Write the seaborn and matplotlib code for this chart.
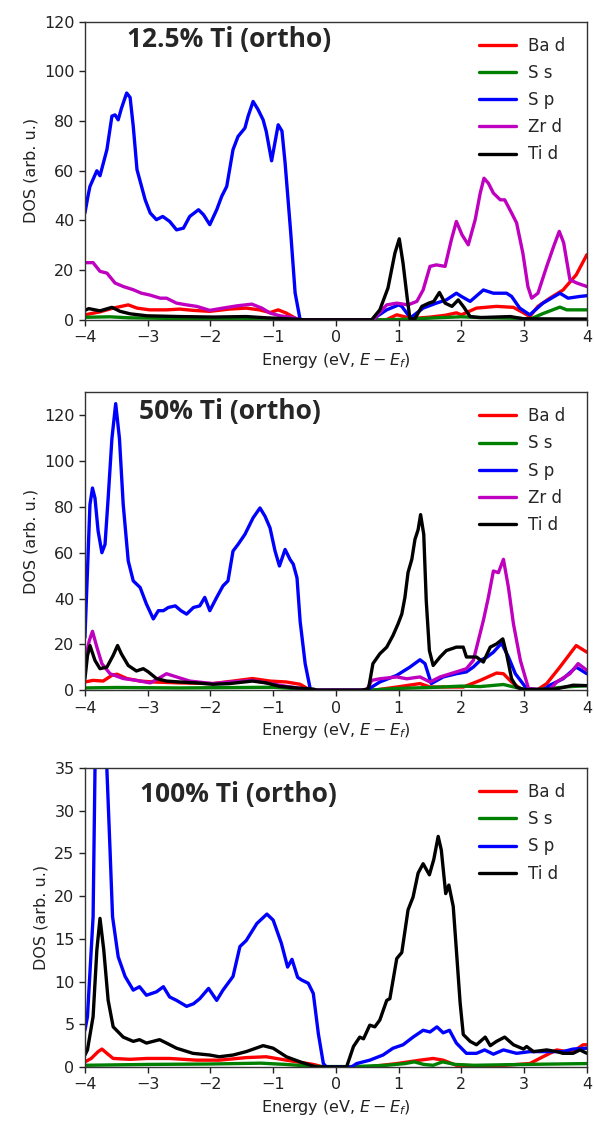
import matplotlib
matplotlib.use("Agg")
import matplotlib.pyplot as plt
import seaborn as sns

# Projected DOS, (energy eV, DOS) pairs for each orbital channel
# ---- 12.5% Ti ----
SP_12 = [(-4.0, 43), (-3.95, 50), (-3.92, 53.7), (-3.81, 60), (-3.76, 58), (-3.65, 68.5), (-3.57, 82),
         (-3.52, 82.5), (-3.47, 80.5), (-3.42, 85), (-3.335, 91.3), (-3.28, 89.5), (-3.23, 77.9),
         (-3.17, 60.4), (-3.13, 56.7), (-3.04, 48.3), (-2.96, 43), (-2.86, 40.3), (-2.76, 41.6),
         (-2.65, 39.6), (-2.54, 36.2), (-2.43, 36.9), (-2.33, 41.6), (-2.19, 44.3), (-2.11, 42.3),
         (-2.01, 38.3), (-1.90, 44.3), (-1.82, 49.7), (-1.74, 53.7), (-1.64, 68.5), (-1.56, 73.8),
         (-1.45, 77.2), (-1.40, 81.9), (-1.32, 87.9), (-1.24, 84.6), (-1.16, 80.5), (-1.11, 75.8),
         (-1.025, 64), (-0.92, 78.5), (-0.86, 76), (-0.81, 63.2), (-0.72, 35), (-0.65, 10.8),
         (-0.57, 0), (0.60, 0), (0.65, 1.3), (0.81, 4), (1.0, 6), (1.05, 5.4), (1.15, 2), (1.2, 1.0),
         (1.39, 4.7), (1.60, 6.7), (1.76, 8), (1.92, 10.7), (2.0, 9.4), (2.14, 7.4), (2.35, 12),
         (2.51, 10.7), (2.72, 10.7), (2.80, 9.4), (2.93, 4.7), (3.09, 2), (3.30, 6.7), (3.57, 10.7),
         (3.70, 8.7), (3.89, 9.4), (4.0, 9.7)]
ZR_12 = [(-4.0, 23), (-3.87, 23), (-3.76, 19.5), (-3.65, 18.8), (-3.52, 14.8), (-3.39, 13.4),
         (-3.23, 12.1), (-3.10, 10.7), (-2.97, 10), (-2.80, 8.7), (-2.70, 8.7), (-2.54, 6.7),
         (-2.38, 6), (-2.22, 5.4), (-2.01, 3.8), (-1.80, 4.7), (-1.58, 5.6), (-1.34, 6.3),
         (-1.18, 4.7), (-1.05, 2.7), (-0.89, 1.6), (-0.68, 0.9), (-0.57, 0), (0.6, 0), (0.7, 3),
         (0.81, 6), (0.97, 6.7), (1.15, 6), (1.29, 7.4), (1.39, 12), (1.50, 21.5), (1.60, 22.1),
         (1.74, 21.5), (1.84, 32.2), (1.92, 39.6), (2.01, 34.2), (2.11, 30.2), (2.22, 40.3),
         (2.30, 51), (2.36, 57), (2.43, 55), (2.51, 51), (2.62, 48.3), (2.69, 48.3), (2.80, 43),
         (2.88, 39), (2.98, 26.8), (3.06, 13.4), (3.12, 8.7), (3.22, 10.7), (3.36, 21.5),
         (3.47, 29.5), (3.56, 35.6), (3.63, 31), (3.73, 16.1), (3.84, 14.8), (4.0, 13.4)]
TI_12 = [(-4.0, 3.8), (-3.94, 4.5), (-3.76, 3.6), (-3.57, 5), (-3.44, 3.4), (-3.28, 2.4),
         (-3.01, 1.6), (-2.49, 1.3), (-1.96, 1.1), (-1.43, 1.3), (-1.11, 0.8), (-0.68, 0.3),
         (-0.5, 0), (0.57, 0), (0.70, 4), (0.83, 12.8), (0.94, 26.8), (1.01, 32.6), (1.07, 22.8),
         (1.14, 8), (1.18, 0.4), (1.26, 0.4), (1.37, 5.4), (1.48, 6.7), (1.56, 7.4), (1.65, 11),
         (1.74, 6.7), (1.85, 5.4), (1.95, 8), (2.03, 5.4), (2.14, 1.3), (2.30, 0.9), (2.78, 1.3),
         (2.99, 0.4), (4.0, 0.3)]
BA_12 = [(-4.0, 2), (-3.76, 3.2), (-3.55, 4.7), (-3.31, 6), (-3.17, 4.7), (-2.97, 4), (-2.70, 4),
         (-2.49, 4.3), (-2.28, 3.8), (-2.01, 3.4), (-1.70, 4.3), (-1.43, 4.7), (-1.22, 4),
         (-1.05, 2.9), (-0.92, 4), (-0.79, 2.7), (-0.63, 0.4), (-0.55, 0), (0.8, 0), (0.97, 2),
         (1.21, 0.5), (1.47, 1), (1.74, 1.8), (1.92, 2.8), (2.0, 2.0), (2.24, 4.7), (2.56, 5.4),
         (2.83, 5), (2.99, 2.8), (3.09, 1.3), (3.22, 5.4), (3.41, 8.7), (3.62, 12), (3.83, 18.1),
         (4.0, 26.2)]
SS_12 = [(-4.0, 1.0), (-3.6, 1.2), (-3.3, 0.8), (-2.5, 0.5), (-1.5, 0.6), (-1.0, 0.4), (-0.6, 0),
         (0.8, 0), (1.2, 0.3), (1.6, 0.8), (2.0, 1.2), (2.4, 0.8), (2.9, 0.6), (3.1, 0.3),
         (3.3, 2.5), (3.57, 5.1), (3.68, 4), (4.0, 4)]

# ---- 50% Ti ----
SP_50 = [(-4.0, 23), (-3.96, 52), (-3.92, 81), (-3.88, 88.2), (-3.84, 83.8), (-3.79, 69.4),
         (-3.73, 60), (-3.68, 63.6), (-3.63, 83.8), (-3.57, 109.8), (-3.51, 125), (-3.45, 109.8),
         (-3.39, 81), (-3.31, 56.4), (-3.23, 47.7), (-3.12, 44.8), (-3.02, 37.6), (-2.91, 31.1),
         (-2.83, 34.7), (-2.75, 34.7), (-2.67, 36.1), (-2.56, 36.8), (-2.47, 34.7), (-2.38, 33.2),
         (-2.27, 36.1), (-2.17, 36.8), (-2.09, 40.5), (-2.01, 34.7), (-1.90, 40.5), (-1.80, 45.5),
         (-1.72, 47.7), (-1.64, 60.7), (-1.56, 63.6), (-1.45, 68), (-1.32, 75.2), (-1.21, 79.5),
         (-1.13, 75.9), (-1.05, 70.8), (-0.97, 60.7), (-0.90, 54.2), (-0.81, 61.4), (-0.73, 57),
         (-0.68, 55), (-0.62, 49), (-0.57, 30), (-0.49, 11.6), (-0.41, 0.7), (-0.38, 0),
         (0.49, 0), (0.70, 3.6), (0.97, 6.5), (1.18, 10.1), (1.34, 13.3), (1.42, 11.6),
         (1.52, 2.9), (1.71, 5.8), (1.92, 7.2), (2.08, 8), (2.19, 10.1), (2.30, 13), (2.41, 14.5),
         (2.51, 16.6), (2.64, 20.5), (2.75, 14.5), (2.86, 7.2), (3.04, 0.7), (3.3, 0), (3.41, 2.2),
         (3.62, 5), (3.83, 10.1), (4.0, 7.2)]
ZR_50 = [(-4.0, 13), (-3.93, 21.7), (-3.88, 25.7), (-3.81, 18.8), (-3.73, 11.6), (-3.60, 7.2),
         (-3.39, 5.1), (-3.18, 4.3), (-2.96, 3.2), (-2.83, 5.1), (-2.70, 7.2), (-2.54, 5.8),
         (-2.33, 4), (-1.96, 2.9), (-1.70, 3.6), (-1.33, 4.3), (-1.11, 3.2), (-0.79, 1.7),
         (-0.47, 0.5), (-0.4, 0), (0.49, 0), (0.57, 4.3), (0.70, 5), (0.97, 5.8), (1.13, 5),
         (1.34, 5.8), (1.50, 3.6), (1.66, 5.8), (1.92, 8), (2.08, 9.4), (2.19, 13), (2.27, 21.7),
         (2.35, 30.4), (2.43, 40.5), (2.51, 52), (2.59, 51.3), (2.67, 57.1), (2.75, 44.8),
         (2.83, 28.9), (2.94, 13), (3.07, 0.7), (3.4, 0), (3.52, 3.6), (3.73, 7.2), (3.86, 11.6),
         (4.0, 8.7)]
TI_50 = [(-4.0, 5), (-3.96, 15), (-3.92, 19.5), (-3.84, 13), (-3.76, 9.4), (-3.65, 10.1),
         (-3.55, 15.2), (-3.48, 19.5), (-3.42, 15.9), (-3.31, 10.8), (-3.18, 8.4), (-3.07, 9.4),
         (-2.99, 8), (-2.86, 5.1), (-2.70, 4), (-2.49, 3.6), (-2.22, 3.2), (-1.96, 2.6),
         (-1.70, 2.9), (-1.33, 4), (-1.11, 3.2), (-0.90, 1.7), (-0.63, 1), (-0.36, 0.5), (-0.3, 0),
         (0.41, 0), (0.52, 0.7), (0.59, 11.6), (0.70, 15.9), (0.81, 18.8), (0.91, 23.9),
         (0.99, 28.9), (1.05, 33.2), (1.10, 40.5), (1.15, 51.4), (1.21, 57.1), (1.26, 65.8),
         (1.31, 70), (1.35, 76.6), (1.40, 68), (1.44, 39), (1.49, 17.3), (1.55, 10.8),
         (1.66, 14.5), (1.76, 17.3), (1.92, 18.8), (2.03, 18.8), (2.08, 14.5), (2.24, 14.5),
         (2.35, 12.3), (2.46, 18.8), (2.56, 20.2), (2.66, 22.4), (2.72, 15.9), (2.80, 5),
         (2.88, 1.4), (2.99, 0.3), (3.5, 0.5), (3.78, 2.2), (4.0, 2)]
BA_50 = [(-4.0, 3.6), (-3.87, 4.3), (-3.71, 4), (-3.57, 6.5), (-3.49, 7), (-3.33, 5.1), (-3.12, 4),
         (-2.91, 3.6), (-2.49, 3.2), (-1.96, 2.9), (-1.64, 4), (-1.33, 5.1), (-1.05, 4),
         (-0.79, 3.6), (-0.57, 2.6), (-0.47, 1.0), (-0.4, 0), (0.6, 0), (0.97, 1.4), (1.34, 2.9),
         (1.50, 1.4), (2.03, 1.4), (2.30, 4.3), (2.56, 7.5), (2.67, 7.2), (2.80, 3.6), (2.94, 0.7),
         (3.2, 0), (3.36, 2.9), (3.57, 10.1), (3.83, 19.5), (4.0, 16.6)]
SS_50 = [(-4.0, 1.0), (-3.5, 1.2), (-2.5, 1.0), (-1.5, 1.2), (-1.0, 1.3), (-0.5, 0.5), (-0.4, 0),
         (0.5, 0), (1.0, 0.8), (1.5, 1.2), (2.0, 1.8), (2.3, 1.6), (2.67, 2.5), (2.9, 1.0),
         (3.1, 0), (3.3, 0.5), (3.7, 1.5), (4.0, 2.0)]

# ---- 100% Ti ----
SP_100 = [(-4.0, 4.3), (-3.96, 5.9), (-3.87, 17.6), (-3.84, 34.8), (-3.80, 45), (-3.74, 46),
          (-3.68, 40), (-3.65, 34.8), (-3.60, 25.4), (-3.56, 17.6), (-3.47, 12.9), (-3.36, 10.6),
          (-3.23, 9.0), (-3.13, 9.4), (-3.02, 8.4), (-2.86, 8.8), (-2.75, 9.4), (-2.65, 8.2),
          (-2.54, 7.8), (-2.38, 7.1), (-2.27, 7.4), (-2.17, 8.0), (-2.03, 9.2), (-1.90, 7.8),
          (-1.80, 9.0), (-1.64, 10.6), (-1.53, 14.1), (-1.43, 14.8), (-1.26, 16.8), (-1.10, 17.9),
          (-1.0, 17.2), (-0.87, 14.5), (-0.77, 11.7), (-0.70, 12.6), (-0.61, 10.5), (-0.55, 10.2),
          (-0.44, 9.8), (-0.36, 8.6), (-0.28, 3.9), (-0.20, 0.4), (-0.15, 0), (0.25, 0),
          (0.33, 0.4), (0.54, 0.8), (0.75, 1.4), (0.91, 2.2), (1.07, 2.6), (1.23, 3.5),
          (1.39, 4.3), (1.50, 4.1), (1.61, 4.7), (1.71, 4.0), (1.81, 4.3), (1.92, 2.8),
          (2.08, 1.6), (2.24, 1.6), (2.37, 2.0), (2.51, 1.5), (2.67, 2.0), (2.88, 1.6),
          (3.09, 1.8), (3.36, 1.8), (3.62, 1.8), (3.78, 2.1), (4.0, 2.2)]
TI_100 = [(-4.0, 1.4), (-3.96, 2.0), (-3.87, 5.9), (-3.81, 13.7), (-3.76, 17.4), (-3.70, 13.7),
          (-3.63, 7.8), (-3.55, 4.7), (-3.39, 3.5), (-3.23, 3.0), (-3.13, 3.2), (-3.02, 2.8),
          (-2.81, 3.2), (-2.70, 2.8), (-2.54, 2.2), (-2.28, 1.6), (-2.01, 1.4), (-1.86, 1.2),
          (-1.64, 1.4), (-1.43, 1.8), (-1.16, 2.5), (-1.0, 2.2), (-0.79, 1.2), (-0.57, 0.6),
          (-0.36, 0.1), (-0.3, 0), (0.17, 0), (0.28, 2.4), (0.38, 3.5), (0.44, 3.3), (0.54, 4.9),
          (0.62, 4.7), (0.70, 5.5), (0.81, 7.8), (0.86, 8.0), (0.97, 12.7), (1.05, 13.4),
          (1.15, 18.4), (1.23, 19.9), (1.31, 22.7), (1.39, 23.8), (1.49, 22.5), (1.56, 24.3),
          (1.63, 27.0), (1.68, 25.4), (1.75, 20.3), (1.80, 21.3), (1.87, 18.8), (1.92, 13.7),
          (1.98, 7.5), (2.03, 3.8), (2.14, 3.0), (2.24, 2.6), (2.38, 3.5), (2.46, 2.5),
          (2.56, 3.0), (2.69, 3.5), (2.83, 2.6), (2.99, 2.1), (3.04, 2.4), (3.15, 1.8),
          (3.36, 2.0), (3.52, 1.8), (3.62, 1.6), (3.78, 1.6), (3.89, 2.0), (4.0, 1.6)]
BA_100 = [(-4.0, 0.6), (-3.90, 1.0), (-3.79, 1.8), (-3.73, 2.1), (-3.65, 1.6), (-3.55, 1.0),
          (-3.28, 0.9), (-3.01, 1.0), (-2.65, 1.0), (-2.22, 0.8), (-1.86, 0.8), (-1.43, 1.1),
          (-1.11, 1.2), (-0.79, 0.8), (-0.36, 0.3), (-0.2, 0), (0.5, 0), (0.97, 0.4), (1.34, 0.8),
          (1.55, 1.0), (1.71, 0.8), (1.92, 0.2), (2.5, 0.1), (3.09, 0.4), (3.30, 1.2), (3.52, 2.0),
          (3.68, 1.8), (3.84, 2.1), (3.94, 2.6), (4.0, 2.6)]
SS_100 = [(-4.0, 0.2), (-3.0, 0.3), (-2.0, 0.35), (-1.2, 0.45), (-0.8, 0.3), (-0.3, 0.05),
          (0.3, 0.05), (0.8, 0.2), (1.1, 0.4), (1.25, 0.6), (1.4, 0.3), (1.55, 0.2), (1.7, 0.6),
          (1.9, 0.3), (2.2, 0.2), (3.0, 0.3), (4.0, 0.4)]

TITLES = ["12.5% Ti (ortho)", "50% Ti (ortho)", "100% Ti (ortho)"]
LABELS = ["Ba d", "S s", "S p", "Zr d", "Ti d"]
COLORS = {"Ba d": "#ff0000", "S s": "#008000", "S p": "#0000ff", "Zr d": "#bf00bf", "Ti d": "#000000"}
PANELS = [
    {"Ba d": BA_12, "S s": SS_12, "S p": SP_12, "Zr d": ZR_12, "Ti d": TI_12},
    {"Ba d": BA_50, "S s": SS_50, "S p": SP_50, "Zr d": ZR_50, "Ti d": TI_50},
    {"Ba d": BA_100, "S s": SS_100, "S p": SP_100, "Ti d": TI_100},
]
YLIMS = [(0, 120), (0, 130), (0, 35)]
YTICKS = [range(0, 121, 20), range(0, 121, 20), range(0, 36, 5)]

sns.set_style("ticks")
plt.rcParams["font.family"] = ["DejaVu Sans"]
plt.rcParams["mathtext.fontset"] = "dejavusans"

fig = plt.figure(figsize=(5.94, 11.26), dpi=100)
axes_rects = [
    [0.143, 0.716, 0.845, 0.2647],
    [0.143, 0.387, 0.845, 0.2647],
    [0.143, 0.0524, 0.845, 0.2655],
]
title_pos = [(0.084, 0.94), (0.108, 0.935), (0.11, 0.91)]

for rect, panel, title, ylim, yt, tp in zip(axes_rects, PANELS, TITLES, YLIMS, YTICKS, title_pos):
    ax = fig.add_axes(rect)
    for lab in LABELS:
        if lab not in panel:
            continue
        e, d = zip(*panel[lab])
        sns.lineplot(x=list(e), y=list(d), ax=ax, color=COLORS[lab], lw=2.4, label=lab,
                     sort=False, estimator=None)
    ax.set_xlim(-4, 4)
    ax.set_ylim(*ylim)
    ax.set_yticks(list(yt))
    ax.set_xticks(range(-4, 5))
    ax.set_xticklabels(["\u22124", "\u22123", "\u22122", "\u22121", "0", "1", "2", "3", "4"])
    ax.tick_params(labelsize=11.5, length=4, width=1, colors="#222222")
    for s in ax.spines.values():
        s.set_color("#333333")
        s.set_linewidth(1.0)
    ax.set_ylabel("DOS (arb. u.)", fontsize=11.5, color="#222222")
    ax.set_xlabel("Energy (eV, $E-E_f$)", fontsize=11.5, color="#222222", labelpad=4)
    ax.text(tp[0], tp[1], title, transform=ax.transAxes, ha="left", va="center",
            fontsize=19, fontweight="bold", family=["Open Sans", "DejaVu Sans"])
    ax.legend(loc="upper right", bbox_to_anchor=(0.986, 1.0), frameon=False, fontsize=12,
              handlelength=2.2, labelspacing=0.55, borderaxespad=0.5, handletextpad=0.7)

fig.savefig("out.png", dpi=100)
